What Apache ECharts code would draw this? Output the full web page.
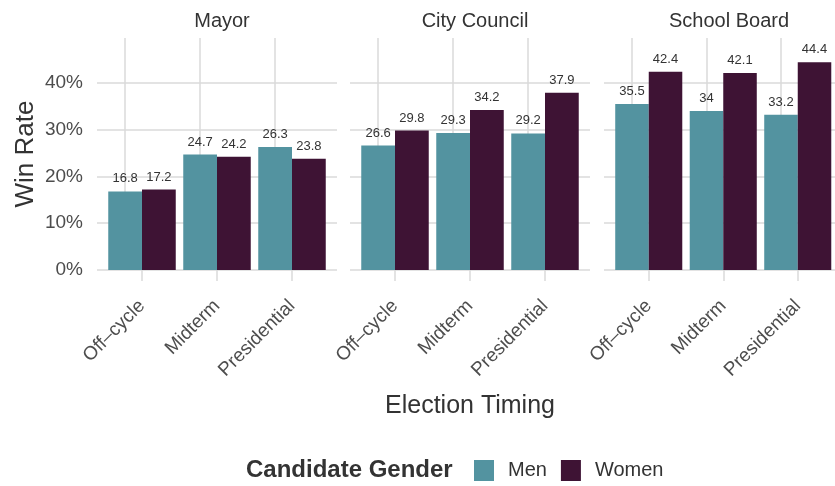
<!DOCTYPE html>
<html>
<head>
<meta charset="utf-8">
<script src="https://cdn.jsdelivr.net/npm/echarts@6/dist/echarts.min.js"></script>
<style>
  html, body { margin: 0; padding: 0; background: #fff; }
  #chart { width: 835px; height: 486px; }
</style>
</head>
<body>
<div id="chart"></div>
<script>
var panels = ['Mayor', 'City Council', 'School Board'];
var timing = ['Off\u2013cycle', 'Midterm', 'Presidential'];
var genders = ['Men', 'Women'];
var menRates = [
  [16.8, 24.7, 26.3],
  [26.6, 29.3, 29.2],
  [35.5, 34, 33.2]
];
var womenRates = [
  [17.2, 24.2, 23.8],
  [29.8, 34.2, 37.9],
  [42.4, 42.1, 44.4]
];
var yTicks = [0, 10, 20, 30, 40];

(function () {
  var teal = '#5393a0';
  var plum = '#3e1334';
  var grid = '#dadada';
  var ink = '#4d4d4d';
  var font = '"Liberation Sans", Arial, sans-serif';

  var chart = echarts.init(document.getElementById('chart'), null, { renderer: 'canvas' });

  var panelLeft = [97, 350, 604];
  var top = 38, height = 232, width = 240, inset = 7.5;
  var yMax = 49.6;

  var grids = [], xAxes = [], yAxes = [], series = [], titles = [];

  panels.forEach(function (name, i) {
    // background grid: horizontal lines and y labels
    grids.push({ left: panelLeft[i], top: top, width: width, height: height });
    xAxes.push({ type: 'value', gridIndex: i * 2, show: false, min: 0, max: 1 });
    yAxes.push({
      type: 'value', gridIndex: i * 2, min: 0, max: yMax, interval: 10,
      axisLine: { show: false }, axisTick: { show: false },
      axisLabel: {
        show: i === 0, showMaxLabel: false, margin: 14,
        color: ink, fontSize: 19, fontFamily: font,
        formatter: function (v) { return yTicks.indexOf(v) >= 0 ? v + '%' : ''; }
      },
      splitLine: { show: true, showMaxLine: false, lineStyle: { color: grid, width: 1.5 } },
      name: i === 0 ? 'Win Rate' : '',
      nameLocation: 'middle', nameGap: 58, nameRotate: 90,
      nameTextStyle: { color: '#333', fontSize: 26, fontFamily: font }
    });

    // bar grid
    grids.push({ left: panelLeft[i] + inset, top: top, width: width - inset * 2, height: height });
    xAxes.push({
      type: 'category', gridIndex: i * 2 + 1, data: timing,
      axisLine: { show: false },
      axisTick: { show: true, alignWithLabel: true, length: 11, lineStyle: { color: grid, width: 1.5 } },
      axisLabel: { rotate: 45, margin: 33, color: ink, fontSize: 19, fontFamily: font, interval: 0 },
      splitLine: { show: false },
      name: i === 1 ? 'Election Timing' : '',
      nameLocation: 'middle', nameGap: 124,
      nameTextStyle: { color: '#333', fontSize: 25, fontFamily: font }
    });
    yAxes.push({ type: 'value', gridIndex: i * 2 + 1, min: 0, max: yMax, show: false, splitLine: { show: false } });

    var label = {
      show: true, position: 'top', distance: 6,
      color: '#333', fontSize: 13, fontFamily: font
    };

    series.push({
      name: 'Men', type: 'bar', xAxisIndex: i * 2 + 1, yAxisIndex: i * 2 + 1,
      data: menRates[i], itemStyle: { color: teal },
      barGap: '0%', barCategoryGap: '10%', label: label, z: 2,
      markLine: {
        silent: true, z: 1, symbol: ['none', 'none'],
        label: { show: false },
        lineStyle: { color: grid, width: 1.5, type: 'solid' },
        data: timing.map(function (t) { return { xAxis: t }; })
      }
    });
    series.push({
      name: 'Women', type: 'bar', xAxisIndex: i * 2 + 1, yAxisIndex: i * 2 + 1,
      data: womenRates[i], itemStyle: { color: plum },
      barGap: '0%', barCategoryGap: '10%', label: label, z: 2
    });

    titles.push({
      text: name, left: panelLeft[i] + width / 2, top: 6, textAlign: 'center',
      textStyle: { color: '#333', fontSize: 20, fontWeight: 'normal', fontFamily: font }
    });
  });

  titles.push({
    text: 'Candidate Gender', left: 241, top: 453,
    textStyle: { color: '#333', fontSize: 24, fontWeight: 'bold', fontFamily: font }
  });

  chart.setOption({
    animation: false,
    title: titles,
    grid: grids,
    xAxis: xAxes,
    yAxis: yAxes,
    legend: {
      data: genders, left: 469, top: 455,
      icon: 'rect', itemWidth: 20, itemHeight: 21, itemGap: 14,
      textStyle: { color: '#333', fontSize: 20, fontFamily: font, padding: [0, 0, 0, 9] }
    },
    series: series
  });
  window.addEventListener('resize', function () { chart.resize(); });
})();
</script>
</body>
</html>
